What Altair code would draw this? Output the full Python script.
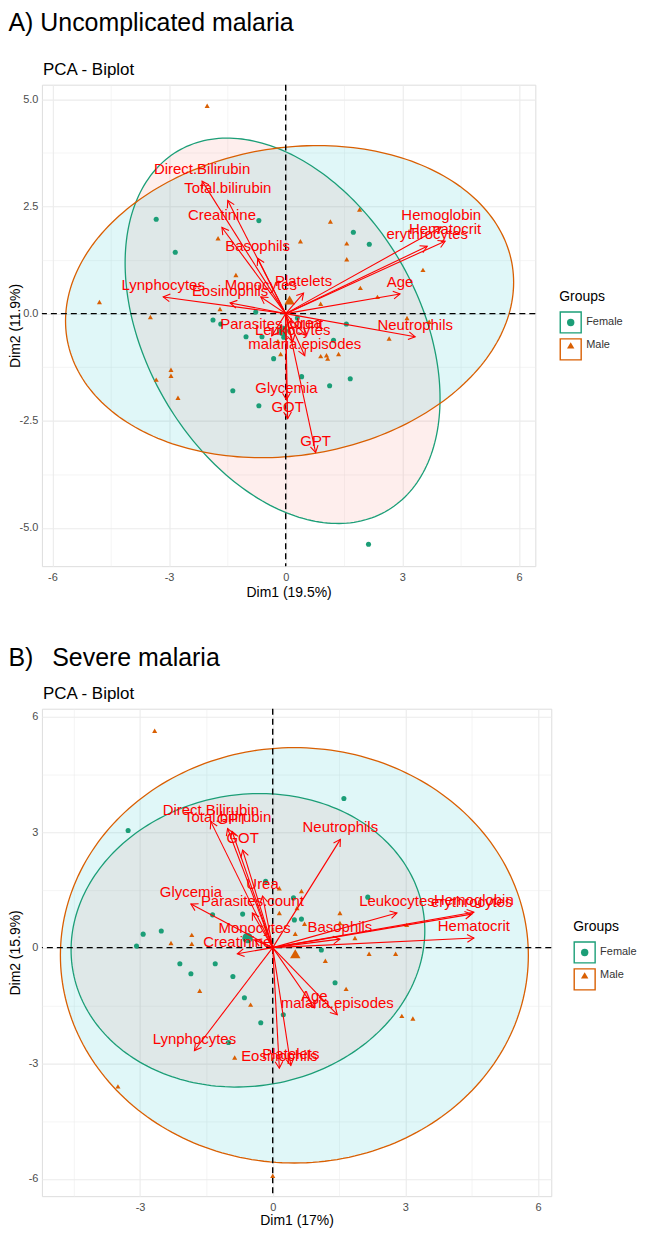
import altair as alt
import numpy as np
import pandas as pd

FONT = "Liberation Sans"
GROUPS = ["Female", "Male"]
BOX_KEYS = ["f", "m"]
FILL_KEYS = ["F", "M"]
POINT_COLORS = ["#1B9E77", "#D95F02"]
ELLIPSE_FILLS = ["#F8766D", "#00BFC4"]
SHAPES = ["circle", "triangle-up"]

# ---------------- Panel A : Uncomplicated malaria ----------------
A_female_x = [-3.33, -2.84, -0.69, -1.87, -1.67, -0.77, -1.02, -0.61, -0.31, -1.36,
              -0.69, 1.74, 2.15, 1.56, 1.23, 0.41, 1.13, 1.66, 2.13, -0.05, 0.30]
A_female_y = [2.20, 1.43, 2.17, -0.15, -0.24, 0.04, -0.54, -0.54, -1.05, -1.80,
              -2.15, 1.90, 1.62, -0.24, -0.62, -1.47, -1.68, -1.52, -5.38, -0.55, -0.10]
A_male_x = [-2.02, -1.74, 0.38, -1.28, -4.79, -3.48, -1.69, 1.90, 1.15, 1.57, 1.57, 3.53,
            1.92, 2.36, 0.90, 3.12, 3.69, -2.95, -2.95, -3.33, -2.77, -0.13, 2.66, 0.90,
            1.08, 1.36, 1.05, -0.20]
A_male_y = [4.85, 1.76, 1.69, 0.90, 0.27, -0.08, 0.11, 2.43, 2.15, 1.64, 1.27, 1.02,
            0.60, 0.39, 0.23, -0.10, -0.19, -1.31, -1.45, -1.54, -1.96, -0.94, -0.58, -0.99,
            -1.05, -0.94, -0.97, -0.64]
A_center_x = [-0.08, 0.10]
A_center_y = [-0.40, 0.32]
A_var_names = ["Direct.Bilirubin", "Total.bilirubin", "Creatinine", "Basophils", "Lynphocytes",
               "Eosinophils", "Monocytes", "Platelets", "Hemoglobin", "Hematocrit", "erythrocytes",
               "Age", "Neutrophils", "Parasites.count", "Urea", "Leukocytes", "malaria.episodes",
               "Glycemia", "GOT", "GPT"]
A_var_x = [-2.15, -1.49, -1.64, -0.72, -3.15, -1.43, -0.64, 0.46, 4.00, 4.10, 3.64,
           2.94, 3.33, -0.36, 0.51, 0.18, 0.49, 0.02, 0.05, 0.77]
A_var_y = [3.09, 2.64, 2.01, 1.29, 0.39, 0.25, 0.39, 0.48, 2.02, 1.69, 1.57,
           0.46, -0.54, -0.52, -0.50, -0.66, -0.98, -2.01, -2.45, -3.24]
A_ell_cx = [-0.08, 0.10]
A_ell_cy = [-0.40, 0.28]
A_ell_sxx = [16.4, 33.2]
A_ell_syy = [20.2, 13.25]
A_ell_sxy = [-6.4, 2.6]

# ---------------- Panel B : Severe malaria ----------------
B_female_x = [-3.27, -2.93, -2.52, -3.08, -2.10, -1.85, -1.30, -0.90, -1.36, -0.68, -0.16,
              -0.64, 0.49, 0.65, 0.47, -0.27, 0.24, 1.10, 1.41, 2.15, 1.61, -1.00]
B_female_y = [3.04, 0.35, 0.43, 0.04, -0.42, -0.68, -0.42, -0.75, 0.85, 0.87, 1.72,
              -1.30, 0.72, 0.74, 1.29, -1.95, -1.74, -0.06, -0.91, 1.31, 3.87, -2.46]
B_male_x = [-2.67, 0.15, 0.65, 0.15, 0.55, 0.72, 0.51, -1.83, -1.83, -2.30, -1.65, 1.19,
            1.52, 1.52, 1.86, 2.18, 2.78, 1.66, -0.50, 2.92, 3.17, 3.03, -0.86, -3.50, 0.00]
B_male_y = [5.63, 1.54, 1.47, 0.90, 1.03, 0.62, 0.36, 0.33, 0.10, 0.12, -1.12, -0.34,
            0.90, 0.64, 0.25, -0.16, -0.16, -1.07, -1.48, -1.77, -1.84, 0.59, -2.85, -3.60, -5.92]
B_center_x = [-0.57, 0.51]
B_center_y = [0.25, -0.16]
B_var_names = ["Direct.Bilirubin", "Total.bilirubin", "GPT", "GOT", "Urea", "Parasites.count",
               "Glycemia", "Monocytes", "Creatinine", "Neutrophils", "Leukocytes", "Hemoglobin",
               "erythrocytes", "Hematocrit", "Basophils", "Age", "malaria.episodes",
               "Lynphocytes", "Eosinophils", "Platelets"]
B_var_x = [-1.40, -1.02, -0.92, -0.68, -0.23, -0.46, -1.85, -0.41, -0.80, 1.53, 2.81, 4.55,
           4.50, 4.55, 1.52, 0.94, 1.46, -1.77, 0.15, 0.41]
B_var_y = [3.27, 3.09, 3.02, 2.53, 1.34, 0.90, 1.13, 0.20, -0.16, 2.81, 0.90, 0.92,
           0.87, 0.25, 0.22, -1.56, -1.74, -2.67, -3.13, -3.06]
B_ell_cx = [-0.56, 0.49]
B_ell_cy = [0.19, -0.20]
B_ell_sxx = [16.0, 28.0]
B_ell_syy = [14.5, 29.05]
B_ell_sxy = [1.0, 0.0]


def ellipse_frames(cx, cy, sxx, syy, sxy):
    outline, fill = [], []
    for k, fk, x0, y0, a_, d_, b_ in zip(BOX_KEYS, FILL_KEYS, cx, cy, sxx, syy, sxy):
        cov = np.array([[a_, b_], [b_, d_]])
        L = np.linalg.cholesky(cov)
        t = np.linspace(0, 2 * np.pi, 241)
        pts = L @ np.vstack([np.cos(t), np.sin(t)])
        for i, (px, py) in enumerate(pts.T):
            outline.append({"key": k, "i": i, "x": x0 + px, "y": y0 + py})
        inv = np.linalg.inv(cov)
        ia, ib, idd = inv[0, 0], inv[0, 1], inv[1, 1]
        dx = np.sqrt(a_) * np.cos(np.linspace(np.pi, 0, 241))
        disc = np.clip(ib ** 2 * dx ** 2 - idd * (ia * dx ** 2 - 1), 0, None)
        lo = (-ib * dx - np.sqrt(disc)) / idd
        hi = (-ib * dx + np.sqrt(disc)) / idd
        for xx, l_, h_ in zip(dx, lo, hi):
            fill.append({"fkey": fk, "x": x0 + xx, "ylo": y0 + l_, "yhi": y0 + h_})
    return pd.DataFrame(outline), pd.DataFrame(fill)


def num_label_expr(majors, fmt):
    arr = ",".join(repr(float(v)) for v in majors)
    return (f"indexof([{arr}], datum.value) >= 0 ? "
            f"replace(format(datum.value, '{fmt}'), '\u2212', '-') : ''")


def grid_width(majors):
    arr = ",".join(repr(float(v)) for v in majors)
    return {"condition": {"test": f"indexof([{arr}], datum.value) >= 0", "value": 1.1},
            "value": 0.55}


def build_panel(cfg, fx, fy, mx, my, cxs, cys, names, vx, vy, ecx, ecy, esxx, esyy, esxy):
    W, H = cfg["width"], cfg["height"]
    xdom, ydom = cfg["xdom"], cfg["ydom"]
    xsc = alt.Scale(domain=xdom, nice=False, zero=False)
    ysc = alt.Scale(domain=ydom, nice=False, zero=False)
    common_axis = dict(grid=True, ticks=False, domain=False, labelFontSize=11,
                       labelColor="#4D4D4D", labelFont=FONT, titleFont=FONT,
                       titleFontSize=14, titleFontWeight="normal", titleColor="black",
                       gridColor="#EBEBEB")
    xaxis = alt.Axis(values=sorted(cfg["xmajor"] + cfg["xminor"]),
                     labelExpr=num_label_expr(cfg["xmajor"], cfg["xfmt"]),
                     gridWidth=grid_width(cfg["xmajor"]), labelPadding=5,
                     titlePadding=cfg["xtitle_pad"], **common_axis)
    yaxis = alt.Axis(values=sorted(cfg["ymajor"] + cfg["yminor"]),
                     labelExpr=num_label_expr(cfg["ymajor"], cfg["yfmt"]),
                     gridWidth=grid_width(cfg["ymajor"]), labelPadding=4,
                     titleX=cfg["ytitle_x"], titleY=H / 2, **common_axis)

    def X(f):
        return alt.X(f, type="quantitative", scale=xsc, axis=xaxis, title=cfg["xtitle"])

    def Y(f):
        return alt.Y(f, type="quantitative", scale=ysc, axis=yaxis, title=cfg["ytitle"])

    outline_df, fill_df = ellipse_frames(ecx, ecy, esxx, esyy, esxy)
    pts = pd.DataFrame({
        "x": list(fx) + list(mx),
        "y": list(fy) + list(my),
        "group": ["Female"] * len(fx) + ["Male"] * len(mx),
    })
    cen = pd.DataFrame({"x": cxs, "y": cys, "group": GROUPS})
    sx = W / (xdom[1] - xdom[0])
    sy = H / (ydom[1] - ydom[0])
    var = pd.DataFrame({"name": names, "x": vx, "y": vy})
    var["x0"] = 0.0
    var["y0"] = 0.0
    var["ang"] = np.degrees(np.arctan2(var["x"] * sx, var["y"] * sy)) % 360
    zero = pd.DataFrame({"v": [0.0]})

    lx, ly = cfg["legend_x"], cfg["legend_y"]
    pt_legend = alt.Legend(title="Groups", orient="none", legendX=lx + 6, legendY=ly,
                           titleColor="transparent", titleFontSize=14, titleFont=FONT,
                           titleFontWeight="normal", titlePadding=13, labelFont=FONT,
                           labelFontSize=11, labelColor="#333333", labelOffset=10,
                           symbolSize=55, symbolStrokeWidth=0, rowPadding=11, padding=0,
                           symbolOpacity=1)
    color_enc = alt.Color("group:N", scale=alt.Scale(domain=GROUPS, range=POINT_COLORS),
                          legend=pt_legend)
    shape_enc = alt.Shape("group:N", scale=alt.Scale(domain=GROUPS, range=SHAPES),
                          legend=pt_legend)

    fill_layer = alt.Chart(fill_df).mark_area(fillOpacity=0.12, strokeWidth=0).encode(
        x=X("x"), y=Y("ylo"), y2="yhi",
        fill=alt.Fill("fkey:N", scale=alt.Scale(domain=FILL_KEYS, range=ELLIPSE_FILLS),
                      legend=None),
    )
    outline_layer = alt.Chart(outline_df).mark_line(strokeWidth=1.3).encode(
        x=X("x"), y=Y("y"), order="i:Q",
        stroke=alt.Stroke("key:N", scale=alt.Scale(domain=BOX_KEYS, range=POINT_COLORS),
                          legend=alt.Legend(title="Groups", orient="none", legendX=lx,
                                            legendY=ly, titleFontSize=14, titleFont=FONT,
                                            titleFontWeight="normal", titleColor="black",
                                            titlePadding=7, labelColor="transparent",
                                            labelFontSize=11, symbolType="square",
                                            symbolSize=441, symbolStrokeWidth=1.4,
                                            symbolFillColor="transparent", rowPadding=0,
                                            padding=0)),
    )
    vline = alt.Chart(zero).mark_rule(color="black", strokeDash=[6, 4], strokeWidth=1.4).encode(
        x=X("v"))
    hline = alt.Chart(zero).mark_rule(color="black", strokeDash=[6, 4], strokeWidth=1.4).encode(
        y=Y("v"))
    points = alt.Chart(pts).mark_point(filled=True, opacity=1, size=26).encode(
        x=X("x"), y=Y("y"), color=color_enc, shape=shape_enc)
    centers = alt.Chart(cen).mark_point(filled=True, opacity=1, size=110).encode(
        x=X("x"), y=Y("y"), color=color_enc, shape=shape_enc)
    arrows = alt.Chart(var).mark_rule(color="#FF0000", strokeWidth=1.1).encode(
        x=X("x0"), y=Y("y0"), x2="x", y2="y")
    heads = alt.Chart(var).mark_point(shape="M-0.55,0.95L0,0L0.55,0.95", filled=False,
                                      size=200, strokeWidth=1.1, color="#FF0000",
                                      opacity=1).encode(
        x=X("x"), y=Y("y"), angle=alt.Angle("ang:Q", scale=None))
    labels = alt.Chart(var).mark_text(color="#FF0000", fontSize=15, font=FONT,
                                      baseline="middle", dy=-12).encode(
        x=X("x"), y=Y("y"), text="name:N")

    panel = alt.layer(fill_layer, outline_layer, vline, hline, points, centers,
                      arrows, heads, labels).properties(
        width=W, height=H,
        title=alt.TitleParams("PCA - Biplot", anchor="start", frame="group", fontSize=17,
                              font=FONT, fontWeight="normal", color="black",
                              offset=cfg["sub_offset"], dx=1),
    )
    block = alt.vconcat(panel, title=alt.TitleParams(
        cfg["title"], anchor="start", frame="bounds", fontSize=25, font=FONT,
        fontWeight="normal", color="black", offset=cfg["title_offset"],
        dy=cfg["title_dy"]))
    block = block.resolve_scale(color="independent", shape="independent",
                                stroke="independent", fill="independent").resolve_legend(
        color="independent", shape="independent", stroke="independent", fill="independent")
    return block


cfgA = dict(title="A) Uncomplicated malaria", xtitle="Dim1 (19.5%)", ytitle="Dim2 (11.9%)",
            xdom=[-6.27, 6.42], ydom=[-5.89, 5.34], width=495, height=483,
            xmajor=[-6, -3, 0, 3, 6], xminor=[-4.5, -1.5, 1.5, 4.5], xfmt="d",
            ymajor=[-5, -2.5, 0, 2.5, 5], yminor=[-3.75, -1.25, 1.25, 3.75], yfmt=".1f",
            ytitle_x=-19, xtitle_pad=3, legend_x=519, legend_y=206, sub_offset=5,
            title_offset=16, title_dy=-9)
cfgB = dict(title="B)\u00a0\u00a0\u2009Severe malaria", xtitle="Dim1 (17%)",
            ytitle="Dim2 (15.9%)",
            xdom=[-5.22, 6.30], ydom=[-6.45, 6.20], width=511, height=489,
            xmajor=[-3, 0, 3, 6], xminor=[-4.5, -1.5, 1.5, 4.5], xfmt="d",
            ymajor=[-6, -3, 0, 3, 6], yminor=[-4.5, -1.5, 1.5, 4.5], yfmt="d",
            ytitle_x=-19, xtitle_pad=1, legend_x=533, legend_y=212, sub_offset=5,
            title_offset=14, title_dy=0)

blockA = build_panel(cfgA, A_female_x, A_female_y, A_male_x, A_male_y, A_center_x, A_center_y,
                     A_var_names, A_var_x, A_var_y, A_ell_cx, A_ell_cy, A_ell_sxx, A_ell_syy,
                     A_ell_sxy)
blockB = build_panel(cfgB, B_female_x, B_female_y, B_male_x, B_male_y, B_center_x, B_center_y,
                     B_var_names, B_var_x, B_var_y, B_ell_cx, B_ell_cy, B_ell_sxx, B_ell_syy,
                     B_ell_sxy)

chart = alt.vconcat(blockA, blockB, spacing=45).resolve_scale(
    x="independent", y="independent", color="independent", shape="independent",
    stroke="independent", fill="independent").resolve_legend(
    color="independent", shape="independent", stroke="independent", fill="independent"
).properties(
    padding={"left": 0, "top": 0, "right": 0, "bottom": 0}, background="white"
).configure_view(stroke=None).configure(font=FONT)

chart.save("out.html", embed_options={"renderer": "svg", "actions": False})
